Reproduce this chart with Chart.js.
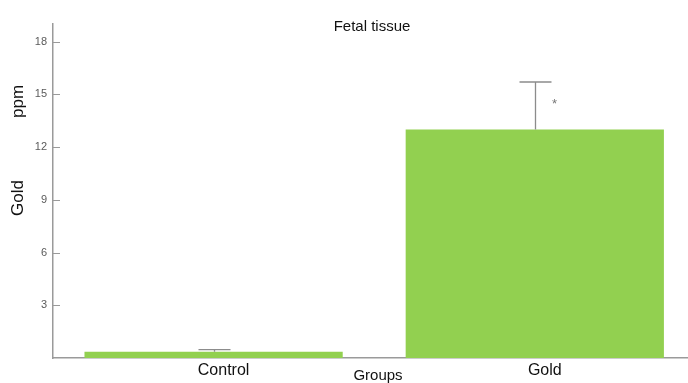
<!DOCTYPE html>
<html>
<head>
<meta charset="utf-8">
<script src="https://cdn.jsdelivr.net/npm/chart.js@4"></script>
<style>
html,body{margin:0;padding:0;background:#fff;overflow:hidden;}
#wrap{width:688px;height:383px;position:relative;}
</style>
</head>
<body>
<div id="wrap"><canvas id="c" width="688" height="383"></canvas></div>
<script>
const categories = ['Control', 'Gold'];
const means = [0.35, 13.0];
const errUpper = [0.48, 15.7];
const yTicks = [3, 6, 9, 12, 15, 18];
const significance = ['', '*'];
const chartTitle = 'Fetal tissue';
const yTitleParts = ['Gold', 'ppm'];
const xTitle = 'Groups';

const FONT = '"Liberation Sans", Arial, sans-serif';
const GREEN = '#92D050';
const AXIS = '#9a9a9a';

const overlay = {
  id: 'overlay',
  afterDatasetsDraw(chart) {
    const ctx = chart.ctx;
    const x = chart.scales.x, y = chart.scales.y;
    const area = chart.chartArea;
    ctx.save();
    // inward y ticks
    ctx.strokeStyle = AXIS; ctx.lineWidth = 1;
    yTicks.forEach(v => {
      const py = Math.round(y.getPixelForValue(v)) + 0.5;
      ctx.beginPath(); ctx.moveTo(area.left, py); ctx.lineTo(area.left + 7, py); ctx.stroke();
    });
    // error bars
    ctx.strokeStyle = '#8c8c8c'; ctx.lineWidth = 1.3;
    means.forEach((m, i) => {
      const px = Math.round(x.getPixelForValue(i)) + 0.5;
      const top = y.getPixelForValue(errUpper[i]);
      const base = y.getPixelForValue(m);
      ctx.beginPath();
      ctx.moveTo(px, base); ctx.lineTo(px, top);
      ctx.moveTo(px - 16, top); ctx.lineTo(px + 16, top);
      ctx.stroke();
      if (significance[i]) {
        ctx.fillStyle = '#777';
        ctx.font = '13px ' + FONT;
        ctx.textAlign = 'center'; ctx.textBaseline = 'middle';
        ctx.fillText(significance[i], px + 19, y.getPixelForValue(14.45));
      }
    });
    // title
    ctx.fillStyle = '#111';
    ctx.font = '15px ' + FONT;
    ctx.textAlign = 'center'; ctx.textBaseline = 'middle';
    ctx.fillText(chartTitle, 372, 27);
    // x title
    ctx.font = '15px ' + FONT;
    ctx.fillText(xTitle, 378, 376);
    // y title parts
    ctx.font = '17px ' + FONT;
    const yPos = [y.getPixelForValue(9.1), y.getPixelForValue(14.6)];
    yTitleParts.forEach((t, i) => {
      ctx.save();
      ctx.translate(18, yPos[i]);
      ctx.rotate(-Math.PI / 2);
      ctx.fillText(t, 0, 0);
      ctx.restore();
    });
    ctx.restore();
  }
};

new Chart(document.getElementById('c'), {
  type: 'bar',
  data: {
    datasets: [{
      data: categories.map((c, i) => ({ x: i, y: means[i] })),
      backgroundColor: GREEN,
      borderWidth: 0,
      barPercentage: 1,
      categoryPercentage: 0.804
    }]
  },
  options: {
    responsive: false,
    animation: false,
    devicePixelRatio: 1,
    layout: { padding: { top: 24, right: 0, left: 0, bottom: 0 } },
    plugins: { legend: { display: false }, tooltip: { enabled: false }, title: { display: false } },
    scales: {
      x: {
        type: 'linear',
        offset: false,
        min: -0.5,
        max: 1.477,
        afterBuildTicks(s) { s.ticks = categories.map((c, i) => ({ value: i })); },
        afterFit(s) { s.height = 25; },
        grid: { display: false, drawTicks: false, offset: false },
        border: { display: true, color: AXIS, width: 1.5 },
        ticks: {
          callback: (v) => categories[v] !== undefined ? categories[v] : '',
          color: '#111',
          font: { family: FONT, size: 16 },
          padding: 3,
          labelOffset: 10,
          maxRotation: 0,
          autoSkip: false
        }
      },
      y: {
        min: 0,
        max: 19,
        afterBuildTicks(s) { s.ticks = yTicks.map(v => ({ value: v })); },
        afterFit(s) { s.width = 53; },
        grid: { display: false, drawTicks: false },
        border: { display: true, color: AXIS, width: 1.5 },
        ticks: {
          color: '#5a5a5a',
          font: { family: FONT, size: 11 },
          padding: 6
        }
      }
    }
  },
  plugins: [overlay]
});
</script>
</body>
</html>
